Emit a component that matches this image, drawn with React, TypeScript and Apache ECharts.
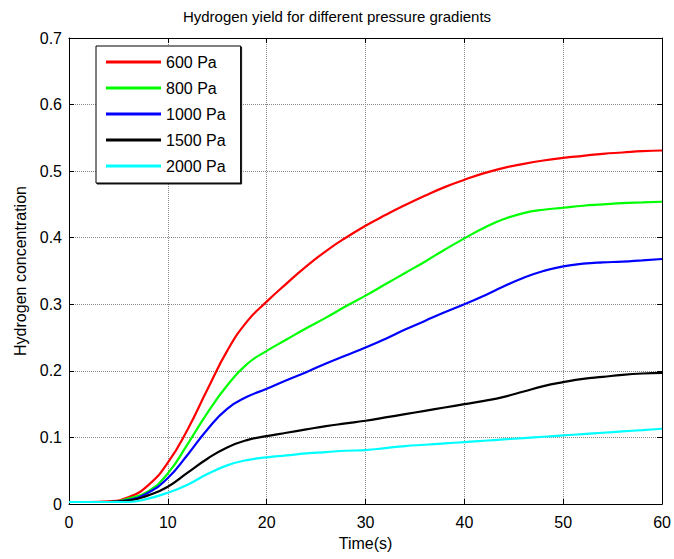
import React, { useEffect, useRef } from "react";
import * as echarts from "echarts";

const titleText = "Hydrogen yield for different pressure gradients";
const xName = "Time(s)";
const yName = "Hydrogen concentration";
const seriesNames = ["600 Pa", "800 Pa", "1000 Pa", "1500 Pa", "2000 Pa"];
const seriesColors = ["#ff0000", "#00ff00", "#0000ff", "#000000", "#00ffff"];

const time = [0, 2, 4, 6, 8, 10, 12, 14, 16, 18, 20, 22, 24, 26, 28, 30, 32, 34, 36, 38, 40, 42, 44, 46, 48, 50, 52, 54, 56, 58, 60];

const p600 = [0.003, 0.003, 0.004, 0.01, 0.028, 0.062, 0.112, 0.172, 0.23, 0.274, 0.304, 0.331, 0.357, 0.38, 0.4, 0.418, 0.434, 0.449, 0.463, 0.476, 0.487, 0.497, 0.505, 0.511, 0.516, 0.52, 0.523, 0.526, 0.528, 0.53, 0.531];
const p800 = [0.003, 0.003, 0.003, 0.008, 0.019, 0.046, 0.09, 0.137, 0.178, 0.21, 0.23, 0.247, 0.264, 0.28, 0.297, 0.313, 0.33, 0.347, 0.364, 0.382, 0.399, 0.415, 0.428, 0.437, 0.442, 0.445, 0.448, 0.45, 0.452, 0.453, 0.454];
const p1000 = [0.003, 0.003, 0.003, 0.006, 0.017, 0.039, 0.074, 0.112, 0.143, 0.161, 0.173, 0.186, 0.198, 0.211, 0.223, 0.235, 0.248, 0.262, 0.275, 0.288, 0.3, 0.313, 0.327, 0.34, 0.35, 0.357, 0.361, 0.363, 0.364, 0.366, 0.368];
const p1500 = [0.003, 0.003, 0.003, 0.005, 0.013, 0.026, 0.047, 0.068, 0.085, 0.096, 0.102, 0.107, 0.112, 0.117, 0.121, 0.125, 0.13, 0.135, 0.14, 0.145, 0.15, 0.155, 0.161, 0.169, 0.177, 0.183, 0.188, 0.191, 0.194, 0.196, 0.197];
const p2000 = [0.003, 0.003, 0.003, 0.003, 0.008, 0.017, 0.029, 0.045, 0.058, 0.066, 0.07, 0.073, 0.076, 0.078, 0.08, 0.081, 0.084, 0.087, 0.089, 0.091, 0.093, 0.095, 0.097, 0.099, 0.101, 0.103, 0.105, 0.107, 0.109, 0.111, 0.113];

const allValues = [p600, p800, p1000, p1500, p2000];

export default function App() {
  const ref = useRef<HTMLDivElement>(null);
  useEffect(() => {
    if (!ref.current) return;
    const chart = echarts.init(ref.current, undefined, { renderer: "svg" });
    const font = "'Liberation Sans', Arial, sans-serif";
    const axisBase = {
      type: "value" as const,
      axisLine: { show: true, onZero: false, lineStyle: { color: "#000", width: 1 } },
      axisTick: { show: true, inside: true, length: 5, lineStyle: { color: "#000" } },
    };
    chart.setOption({
      animation: false,
      backgroundColor: "#fff",
      textStyle: { fontFamily: font },
      title: {
        text: titleText,
        left: "center",
        top: 9,
        padding: 0,
        textStyle: { fontFamily: font, fontSize: 15, fontWeight: "normal", color: "#000" },
      },
      legend: {
        orient: "vertical",
        left: 96,
        top: 46,
        padding: [8, 15, 9, 10],
        itemGap: 10,
        itemWidth: 55,
        itemHeight: 3,
        icon: "rect",
        borderColor: "#000",
        borderWidth: 1,
        backgroundColor: "#fff",
        shadowColor: "rgba(0,0,0,0.9)",
        shadowOffsetX: 1,
        shadowOffsetY: 1,
        shadowBlur: 1,
        textStyle: { fontFamily: font, fontSize: 16, lineHeight: 16, color: "#000" },
        data: seriesNames,
      },
      grid: { left: 69, right: 11, top: 38, bottom: 55, containLabel: false },
      xAxis: [
        {
          ...axisBase,
          position: "bottom",
          min: 0,
          max: 60,
          interval: 10,
          name: xName,
          nameLocation: "middle",
          nameGap: 31,
          nameTextStyle: { fontFamily: font, fontSize: 16, color: "#000", verticalAlign: "top" },
          axisLabel: { fontFamily: font, fontSize: 16, color: "#000", margin: 10 },
          splitLine: { show: true, lineStyle: { color: "#888", type: "dotted", width: 1 } },
        },
        {
          ...axisBase,
          position: "top",
          min: 0,
          max: 60,
          interval: 10,
          axisLabel: { show: false },
          splitLine: { show: false },
        },
      ],
      yAxis: [
        {
          ...axisBase,
          position: "left",
          min: 0,
          max: 0.7,
          interval: 0.1,
          name: yName,
          nameLocation: "middle",
          nameGap: 41,
          nameTextStyle: { fontFamily: font, fontSize: 16, color: "#000" },
          axisLabel: { fontFamily: font, fontSize: 16, color: "#000", margin: 7 },
          splitLine: { show: true, lineStyle: { color: "#888", type: "dotted", width: 1 } },
        },
        {
          ...axisBase,
          position: "right",
          min: 0,
          max: 0.7,
          interval: 0.1,
          axisLabel: { show: false },
          splitLine: { show: false },
        },
      ],
      series: seriesNames.map((name, i) => ({
        name,
        type: "line",
        xAxisIndex: 0,
        yAxisIndex: 0,
        showSymbol: false,
        smooth: 0.5,
        color: seriesColors[i],
        lineStyle: { color: seriesColors[i], width: 2.2 },
        data: time.map((t, j) => [t, allValues[i][j]]),
      })),
    });
    return () => chart.dispose();
  }, []);
  return <div ref={ref} style={{ width: 674, height: 559, position: "absolute", left: 0, top: 0 }} />;
}
